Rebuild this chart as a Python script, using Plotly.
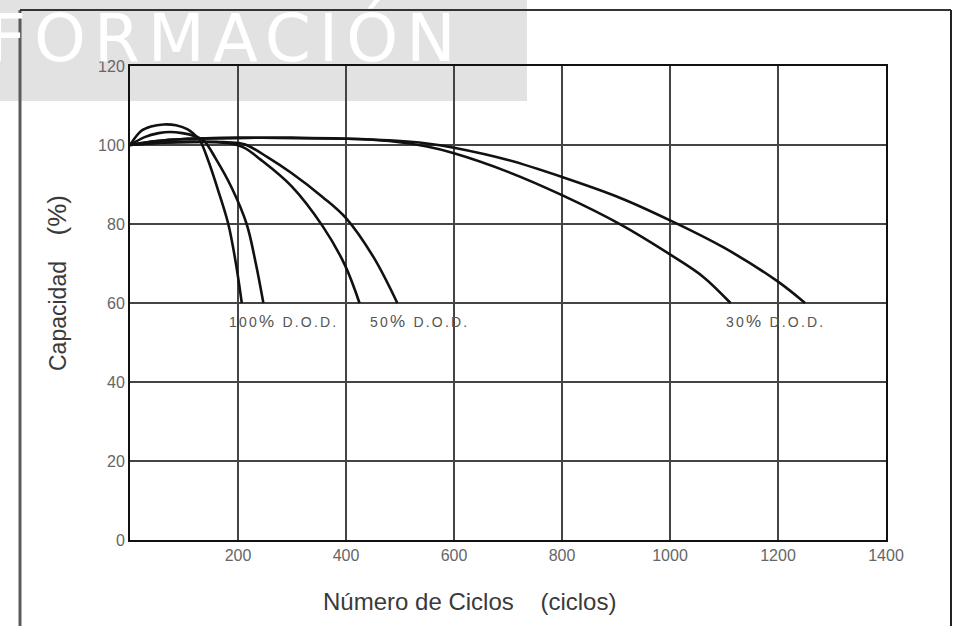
import plotly.graph_objects as go

# ---- data (cycles, capacity %) ----
cycles_100a = [0, 21, 39, 62, 85, 106, 118, 129, 145, 163, 182, 196, 207]
cap_100a = [100, 103.6, 104.7, 105.2, 105.0, 104.0, 102.8, 101.3, 96.0, 88.6, 80, 70.1, 60]

cycles_100b = [0, 27, 53, 74, 97, 119, 136, 159, 189, 216, 233, 247]
cap_100b = [100, 102, 103, 103.3, 103, 102.3, 101.2, 96.5, 89, 80, 70, 60]

cycles_50a = [0, 60, 120, 180, 210, 242, 299, 357, 398, 425]
cap_50a = [100, 100.6, 100.8, 100.5, 99.4, 96.3, 89.6, 79.4, 69.6, 60]

cycles_50b = [0, 60, 120, 180, 212, 256, 299, 357, 400, 451, 495]
cap_50b = [100, 100.6, 100.8, 100.7, 100.2, 96.8, 92.9, 86.8, 81.5, 71.6, 60]

cycles_30a = [0, 50, 100, 200, 300, 400, 480, 550, 600, 700, 800, 908, 1000, 1060, 1112]
cap_30a = [100, 101, 101.5, 101.8, 101.8, 101.6, 101, 99.6, 97.9, 93.2, 87.3, 79.9, 72.3, 66.8, 60]

cycles_30b = [0, 50, 100, 200, 300, 400, 480, 550, 600, 700, 800, 908, 1002, 1100, 1200, 1250]
cap_30b = [100, 101, 101.5, 101.8, 101.8, 101.6, 101.2, 100.4, 99.3, 96.2, 91.9, 86.6, 80.8, 74.0, 65.4, 60]

x_ticks = [200, 400, 600, 800, 1000, 1200, 1400]
y_ticks = [0, 20, 40, 60, 80, 100, 120]

labels = ["100", "50", "30"]
label_x = [180, 440, 1100]
label_y = 55.2

FONT = "Liberation Sans, Arial, sans-serif"

fig = go.Figure()
for xs, ys in [(cycles_100a, cap_100a), (cycles_100b, cap_100b),
               (cycles_50a, cap_50a), (cycles_50b, cap_50b),
               (cycles_30a, cap_30a), (cycles_30b, cap_30b)]:
    fig.add_trace(go.Scatter(x=xs, y=ys, mode="lines",
                             line=dict(color="#111111", width=2.6, shape="spline", smoothing=1.0),
                             showlegend=False, hoverinfo="skip"))

W, H = 965, 626
L, T = 130, 66
R = W - 886
B = H - 540
pw, ph = W - L - R, H - T - B


def px(xp):
    """screen pixel x -> paper coordinate"""
    return (xp - L) / pw


def py(yp):
    """screen pixel y -> paper coordinate"""
    return (H - B - yp) / ph


tickfont = dict(family=FONT, size=16, color="#666666")
fig.update_layout(
    width=W, height=H, autosize=False,
    margin=dict(l=L, r=R, t=T, b=B),
    paper_bgcolor="white", plot_bgcolor="white",
    font=dict(family=FONT, color="#555555"),
    xaxis=dict(range=[0, 1400], tickvals=x_ticks, ticktext=[str(v) for v in x_ticks],
               showgrid=True, gridcolor="#444444", gridwidth=2,
               showline=True, linecolor="#111111", linewidth=2, mirror=True,
               zeroline=False, ticks="", tickfont=tickfont),
    yaxis=dict(range=[0, 120], tickvals=y_ticks, ticktext=[str(v) for v in y_ticks],
               showgrid=True, gridcolor="#444444", gridwidth=2,
               showline=True, linecolor="#111111", linewidth=2, mirror=True,
               zeroline=False, ticks="", tickfont=tickfont),
)

shapes = [
    # grey banner behind watermark
    dict(type="rect", xref="paper", yref="paper", layer="below",
         x0=px(-5), x1=px(527), y0=py(101), y1=py(-5),
         fillcolor="#e2e2e2", line=dict(width=0)),
    # outer frame
    dict(type="line", xref="paper", yref="paper", x0=px(20), x1=px(20), y0=py(10), y1=py(640),
         line=dict(color="#5a5a5a", width=3)),
    dict(type="line", xref="paper", yref="paper", x0=px(20), x1=px(951), y0=py(10), y1=py(10),
         line=dict(color="#333333", width=2)),
    dict(type="line", xref="paper", yref="paper", x0=px(951), x1=px(951), y0=py(10), y1=py(640),
         line=dict(color="#222222", width=2)),
]
fig.update_layout(shapes=shapes)

ann = [
    dict(text='<span style="letter-spacing:8px">FORMACIÓN</span>', xref="paper", yref="paper",
         x=px(-14), y=py(39), xanchor="left", yanchor="middle", showarrow=False,
         font=dict(family="DejaVu Sans", size=66, color="white")),
    dict(text="Número de Ciclos &nbsp;&nbsp;&nbsp;(ciclos)", xref="paper", yref="paper",
         x=px(469), y=py(601), xanchor="center", yanchor="middle", showarrow=False,
         font=dict(family=FONT, size=24, color="#3a3a3a")),
    dict(text='Capacidad &nbsp;&nbsp;&nbsp;<span style="font-size:26px">(%)</span>',
         xref="paper", yref="paper",
         x=px(57), y=py(283), xanchor="center", yanchor="middle", showarrow=False,
         textangle=-90, font=dict(family=FONT, size=23, color="#3a3a3a")),
]
for lab, lx in zip(labels, label_x):
    ann.append(dict(text='<span style="letter-spacing:2.2px">' + lab
                    + '<span style="font-size:17px">%</span> D.O.D.</span>',
                    x=lx, y=label_y, xref="x", yref="y", xanchor="left", yanchor="middle",
                    showarrow=False, font=dict(family=FONT, size=14, color="#555555")))
fig.update_layout(annotations=ann)

fig.write_html("out.html", config={"displayModeBar": False},
               post_script="document.body.style.margin='0';")
